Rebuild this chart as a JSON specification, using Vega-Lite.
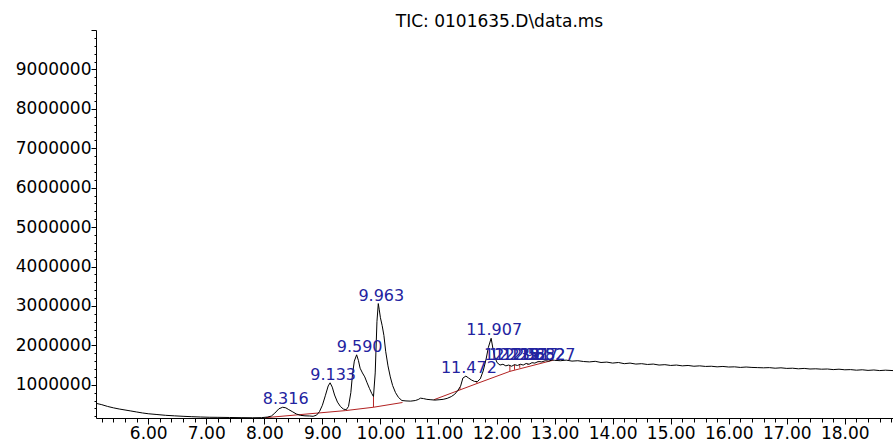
{
  "$schema": "https://vega.github.io/schema/vega-lite/v6.json",
  "width": 797,
  "height": 388,
  "autosize": {"type": "none"},
  "padding": {"left": 96, "top": 30, "right": 0, "bottom": 23},
  "background": "white",
  "view": {"stroke": null},
  "title": {"text": "TIC: 0101635.D\\data.ms", "font": "DejaVu Sans", "fontSize": 17, "fontWeight": "normal", "color": "#000", "anchor": "middle", "offset": 3, "dx": 5, "dy": 13},
  "datasets": {
    "tic": [
      {"t": 5.10, "a": 530000}, {"t": 5.20, "a": 495000}, {"t": 5.30, "a": 450000}, {"t": 5.40, "a": 415000},
      {"t": 5.50, "a": 385000}, {"t": 5.60, "a": 360000}, {"t": 5.70, "a": 335000}, {"t": 5.80, "a": 310000},
      {"t": 5.90, "a": 285000}, {"t": 6.00, "a": 265000}, {"t": 6.15, "a": 245000}, {"t": 6.30, "a": 225000},
      {"t": 6.45, "a": 212000}, {"t": 6.60, "a": 200000}, {"t": 6.75, "a": 190000}, {"t": 6.90, "a": 182000},
      {"t": 7.05, "a": 176000}, {"t": 7.20, "a": 174000}, {"t": 7.40, "a": 170000}, {"t": 7.60, "a": 166000},
      {"t": 7.80, "a": 163000}, {"t": 7.95, "a": 166000}, {"t": 8.05, "a": 180000}, {"t": 8.12, "a": 205000},
      {"t": 8.18, "a": 280000}, {"t": 8.25, "a": 390000}, {"t": 8.316, "a": 430000}, {"t": 8.37, "a": 415000},
      {"t": 8.42, "a": 370000}, {"t": 8.48, "a": 320000}, {"t": 8.55, "a": 260000}, {"t": 8.62, "a": 225000},
      {"t": 8.70, "a": 212000}, {"t": 8.78, "a": 208000}, {"t": 8.84, "a": 200000}, {"t": 8.90, "a": 230000},
      {"t": 8.95, "a": 320000}, {"t": 9.00, "a": 480000}, {"t": 9.05, "a": 720000}, {"t": 9.10, "a": 970000},
      {"t": 9.133, "a": 1050000}, {"t": 9.17, "a": 940000}, {"t": 9.21, "a": 740000}, {"t": 9.26, "a": 560000},
      {"t": 9.31, "a": 450000}, {"t": 9.36, "a": 385000}, {"t": 9.41, "a": 365000}, {"t": 9.45, "a": 450000},
      {"t": 9.49, "a": 800000}, {"t": 9.52, "a": 1280000}, {"t": 9.55, "a": 1600000}, {"t": 9.59, "a": 1760000},
      {"t": 9.62, "a": 1620000}, {"t": 9.65, "a": 1420000}, {"t": 9.69, "a": 1300000}, {"t": 9.73, "a": 1200000},
      {"t": 9.77, "a": 1050000}, {"t": 9.81, "a": 910000}, {"t": 9.85, "a": 780000}, {"t": 9.88, "a": 700000},
      {"t": 9.91, "a": 1300000}, {"t": 9.94, "a": 2600000}, {"t": 9.963, "a": 3060000}, {"t": 9.98, "a": 2900000},
      {"t": 10.00, "a": 2700000}, {"t": 10.03, "a": 2500000}, {"t": 10.06, "a": 2250000}, {"t": 10.09, "a": 1850000},
      {"t": 10.13, "a": 1480000}, {"t": 10.17, "a": 1200000}, {"t": 10.21, "a": 980000}, {"t": 10.26, "a": 800000},
      {"t": 10.31, "a": 680000}, {"t": 10.37, "a": 600000}, {"t": 10.44, "a": 590000}, {"t": 10.52, "a": 585000},
      {"t": 10.60, "a": 600000}, {"t": 10.65, "a": 625000}, {"t": 10.69, "a": 660000}, {"t": 10.74, "a": 650000},
      {"t": 10.80, "a": 630000}, {"t": 10.87, "a": 620000}, {"t": 10.94, "a": 612000}, {"t": 11.01, "a": 620000},
      {"t": 11.08, "a": 630000}, {"t": 11.15, "a": 655000}, {"t": 11.22, "a": 700000}, {"t": 11.28, "a": 760000},
      {"t": 11.33, "a": 850000}, {"t": 11.38, "a": 960000}, {"t": 11.42, "a": 1170000}, {"t": 11.472, "a": 1220000},
      {"t": 11.52, "a": 1170000}, {"t": 11.57, "a": 1120000}, {"t": 11.62, "a": 1085000}, {"t": 11.67, "a": 1080000},
      {"t": 11.72, "a": 1150000}, {"t": 11.77, "a": 1350000}, {"t": 11.82, "a": 1650000}, {"t": 11.86, "a": 1950000},
      {"t": 11.907, "a": 2180000}, {"t": 11.94, "a": 1900000}, {"t": 11.97, "a": 1700000}, {"t": 12.01, "a": 1560000},
      {"t": 12.06, "a": 1500000}, {"t": 12.11, "a": 1520000}, {"t": 12.16, "a": 1480000}, {"t": 12.21, "a": 1500000},
      {"t": 12.26, "a": 1470000}, {"t": 12.31, "a": 1510000}, {"t": 12.36, "a": 1490000}, {"t": 12.41, "a": 1520000},
      {"t": 12.46, "a": 1500000}, {"t": 12.51, "a": 1540000}, {"t": 12.56, "a": 1520000}, {"t": 12.61, "a": 1560000},
      {"t": 12.66, "a": 1550000}, {"t": 12.72, "a": 1590000}, {"t": 12.78, "a": 1580000}, {"t": 12.84, "a": 1610000},
      {"t": 12.90, "a": 1600000}, {"t": 12.96, "a": 1630000}, {"t": 13.0, "a": 1620000}, {"t": 13.1, "a": 1610000},
      {"t": 13.2, "a": 1625000}, {"t": 13.3, "a": 1600000}, {"t": 13.4, "a": 1610000}, {"t": 13.5, "a": 1590000},
      {"t": 13.6, "a": 1580000}, {"t": 13.7, "a": 1595000}, {"t": 13.8, "a": 1565000}, {"t": 13.9, "a": 1575000},
      {"t": 14.0, "a": 1550000}, {"t": 14.1, "a": 1565000}, {"t": 14.2, "a": 1535000}, {"t": 14.3, "a": 1550000},
      {"t": 14.4, "a": 1525000}, {"t": 14.5, "a": 1535000}, {"t": 14.6, "a": 1515000}, {"t": 14.7, "a": 1525000},
      {"t": 14.8, "a": 1500000}, {"t": 14.9, "a": 1510000}, {"t": 15.0, "a": 1490000}, {"t": 15.1, "a": 1500000},
      {"t": 15.2, "a": 1480000}, {"t": 15.3, "a": 1490000}, {"t": 15.4, "a": 1470000}, {"t": 15.5, "a": 1480000},
      {"t": 15.6, "a": 1465000}, {"t": 15.7, "a": 1470000}, {"t": 15.8, "a": 1455000}, {"t": 15.9, "a": 1465000},
      {"t": 16.0, "a": 1450000}, {"t": 16.1, "a": 1455000}, {"t": 16.2, "a": 1440000}, {"t": 16.3, "a": 1450000},
      {"t": 16.4, "a": 1440000}, {"t": 16.5, "a": 1435000}, {"t": 16.6, "a": 1430000}, {"t": 16.7, "a": 1435000},
      {"t": 16.8, "a": 1420000}, {"t": 16.9, "a": 1430000}, {"t": 17.0, "a": 1415000}, {"t": 17.1, "a": 1420000},
      {"t": 17.2, "a": 1405000}, {"t": 17.3, "a": 1415000}, {"t": 17.4, "a": 1400000}, {"t": 17.5, "a": 1405000},
      {"t": 17.6, "a": 1395000}, {"t": 17.7, "a": 1400000}, {"t": 17.8, "a": 1385000}, {"t": 17.9, "a": 1395000},
      {"t": 18.0, "a": 1380000}, {"t": 18.1, "a": 1385000}, {"t": 18.2, "a": 1370000}, {"t": 18.3, "a": 1380000},
      {"t": 18.4, "a": 1365000}, {"t": 18.5, "a": 1375000}, {"t": 18.6, "a": 1360000}, {"t": 18.7, "a": 1370000},
      {"t": 18.83, "a": 1360000}
    ],
    "base": [
      {"t": 8.02, "a": 165000, "seg": 1}, {"t": 9.40, "a": 345000, "seg": 1}, {"t": 9.88, "a": 430000, "seg": 1}, {"t": 10.38, "a": 550000, "seg": 1},
      {"t": 10.92, "a": 620000, "seg": 2}, {"t": 11.37, "a": 870000, "seg": 2}, {"t": 11.66, "a": 1030000, "seg": 2}, {"t": 12.23, "a": 1340000, "seg": 2}, {"t": 12.98, "a": 1625000, "seg": 2}
    ],
    "drops": [
      {"t": 9.88, "lo": 430000, "hi": 700000},
      {"t": 11.37, "lo": 870000, "hi": 950000},
      {"t": 11.66, "lo": 1030000, "hi": 1080000},
      {"t": 12.23, "lo": 1340000, "hi": 1490000},
      {"t": 12.31, "lo": 1380000, "hi": 1510000},
      {"t": 12.40, "lo": 1430000, "hi": 1520000},
      {"t": 12.54, "lo": 1500000, "hi": 1530000},
      {"t": 12.72, "lo": 1570000, "hi": 1590000}
    ],
    "peaks": [
      {"t": 8.316, "a": 430000, "label": "8.316"},
      {"t": 9.133, "a": 1050000, "label": "9.133"},
      {"t": 9.590, "a": 1760000, "label": "9.590"},
      {"t": 9.963, "a": 3060000, "label": "9.963"},
      {"t": 11.472, "a": 1220000, "label": "11.472"},
      {"t": 11.907, "a": 2180000, "label": "11.907"},
      {"t": 12.215, "a": 1550000, "label": "12.215"},
      {"t": 12.298, "a": 1550000, "label": "12.298"},
      {"t": 12.391, "a": 1550000, "label": "12.391"},
      {"t": 12.527, "a": 1550000, "label": "12.527"},
      {"t": 12.652, "a": 1550000, "label": "12.652"},
      {"t": 12.827, "a": 1550000, "label": "12.827"}
    ]
  },
  "encoding": {
    "x": {
      "field": "t", "type": "quantitative",
      "scale": {"domain": [5.10, 18.83], "nice": false, "zero": false},
      "axis": {
        "title": null, "grid": false, "orient": "bottom",
        "values": [5.2,5.4,5.6,5.8,6,6.2,6.4,6.6,6.8,7,7.2,7.4,7.6,7.8,8,8.2,8.4,8.6,8.8,9,9.2,9.4,9.6,9.8,10,10.2,10.4,10.6,10.8,11,11.2,11.4,11.6,11.8,12,12.2,12.4,12.6,12.8,13,13.2,13.4,13.6,13.8,14,14.2,14.4,14.6,14.8,15,15.2,15.4,15.6,15.8,16,16.2,16.4,16.6,16.8,17,17.2,17.4,17.6,17.8,18,18.2,18.4,18.6,18.8],
        "labelExpr": "abs(datum.value - round(datum.value)) < 0.01 ? format(datum.value, '.2f') : ''",
        "tickSize": {"condition": {"test": "abs(datum.value - round(datum.value)) < 0.01", "value": 6}, "value": 4},
        "labelOverlap": false, "labelFlush": false,
        "labelFont": "DejaVu Sans", "labelFontSize": 17, "labelColor": "#000", "labelPadding": 1,
        "domainColor": "#000", "tickColor": "#000", "domainWidth": 1, "tickWidth": 1
      }
    },
    "y": {
      "field": "a", "type": "quantitative",
      "scale": {"domain": [157000, 10000000], "nice": false, "zero": false},
      "axis": {
        "title": null, "grid": false,
        "values": [200000,400000,600000,800000,1000000,1200000,1400000,1600000,1800000,2000000,2200000,2400000,2600000,2800000,3000000,3200000,3400000,3600000,3800000,4000000,4200000,4400000,4600000,4800000,5000000,5200000,5400000,5600000,5800000,6000000,6200000,6400000,6600000,6800000,7000000,7200000,7400000,7600000,7800000,8000000,8200000,8400000,8600000,8800000,9000000,9200000,9400000,9600000,9800000,10000000],
        "labelExpr": "datum.value % 1000000 === 0 && datum.value < 10000000 ? format(datum.value, 'd') : ''",
        "tickSize": {"condition": {"test": "datum.value % 1000000 === 0", "value": 5}, "value": 2},
        "labelOverlap": false, "labelFlush": false,
        "labelFont": "DejaVu Sans", "labelFontSize": 17, "labelColor": "#000", "labelPadding": 0,
        "domainColor": "#000", "tickColor": "#000", "domainWidth": 1, "tickWidth": 1
      }
    }
  },
  "layer": [
    {
      "data": {"name": "base"},
      "mark": {"type": "line", "color": "#b22222", "strokeWidth": 1},
      "encoding": {"detail": {"field": "seg", "type": "nominal"}}
    },
    {
      "data": {"name": "drops"},
      "mark": {"type": "rule", "color": "#b22222", "strokeWidth": 1},
      "encoding": {"y": {"field": "lo", "type": "quantitative"}, "y2": {"field": "hi"}}
    },
    {
      "data": {"name": "tic"},
      "mark": {"type": "line", "color": "#000", "strokeWidth": 1, "clip": true},
      "encoding": {}
    },
    {
      "data": {"name": "peaks"},
      "mark": {"type": "text", "font": "DejaVu Sans", "fontSize": 16, "color": "#2323a0", "align": "center", "baseline": "alphabetic", "dx": 3, "dy": -3},
      "encoding": {"text": {"field": "label"}}
    }
  ]
}
